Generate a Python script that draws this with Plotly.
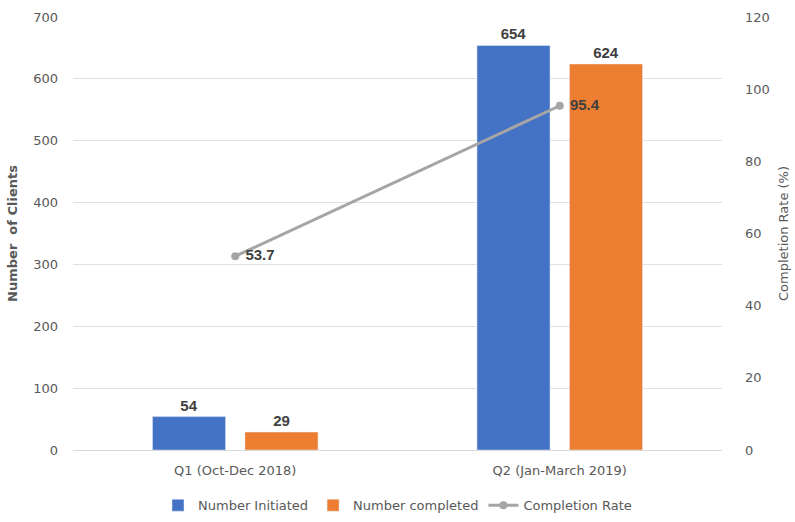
import plotly.graph_objects as go

categories = ["Q1 (Oct-Dec 2018)", "Q2 (Jan-March 2019)"]
initiated = [54, 654]
completed = [29, 624]
rate = [53.7, 95.4]

label_font = dict(family="Liberation Sans", size=15, color="#404040")

fig = go.Figure()
fig.add_trace(go.Bar(
    x=categories, y=initiated, name="Number Initiated",
    marker_color="#4472C4",
    text=[str(v) for v in initiated], textposition="outside",
    textfont=label_font,
    texttemplate="<b>%{text}</b>", cliponaxis=False,
))
fig.add_trace(go.Bar(
    x=categories, y=completed, name="Number completed",
    marker_color="#ED7D31",
    text=[str(v) for v in completed], textposition="outside",
    textfont=label_font,
    texttemplate="<b>%{text}</b>", cliponaxis=False,
))
fig.add_trace(go.Scatter(
    x=categories, y=rate, name="Completion Rate", yaxis="y2",
    mode="lines+markers+text",
    line=dict(color="#A5A5A5", width=3),
    marker=dict(color="#A5A5A5", size=8),
    text=[f"<b> {v}</b>" for v in rate], textposition="middle right",
    textfont=label_font,
    cliponaxis=False,
))

fig.update_layout(
    width=795, height=522,
    margin=dict(l=73, r=73, t=17, b=72, autoexpand=False),
    paper_bgcolor="white", plot_bgcolor="white",
    barmode="group", bargap=0.43, bargroupgap=0.21,
    font=dict(family="DejaVu Sans", size=13, color="#595959"),
    xaxis=dict(showgrid=False, showline=True, linecolor="#D9D9D9",
               ticks="", ticklabelstandoff=8,
               tickfont=dict(size=13, color="#595959")),
    yaxis=dict(range=[0, 700], dtick=100, showgrid=True, gridcolor="#E0E0E0",
               zeroline=False, ticks="", ticklabelstandoff=14,
               tickfont=dict(size=13, color="#595959"),
               title=dict(text="<b>Number  of Clients</b>", standoff=12,
                          font=dict(size=13, color="#595959"))),
    yaxis2=dict(range=[0, 120], dtick=20, overlaying="y", side="right",
                showgrid=False, zeroline=False, ticks="", ticklabelstandoff=22,
                tickfont=dict(size=13, color="#595959"),
                title=dict(text="Completion Rate (%)", standoff=10,
                           font=dict(size=13, color="#595959"))),
    legend=dict(orientation="h", x=0.5, xanchor="center",
                yref="container", y=0.032, yanchor="middle",
                font=dict(size=13, color="#595959")),
    showlegend=True,
)

fig.write_html("out.html")
